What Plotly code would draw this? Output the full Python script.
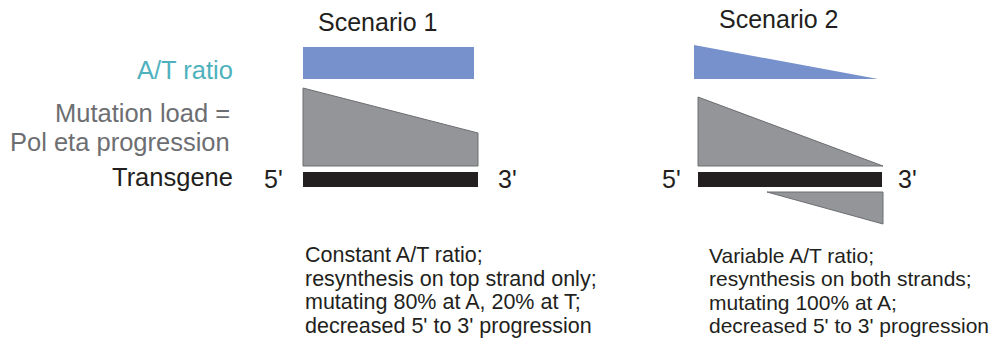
import plotly.graph_objects as go

W, H = 996, 344
FONT = "Liberation Sans, Arial, Helvetica, sans-serif"

# ---- colours ----
BLUE = "#7691CB"
GRAY_FILL = "#939598"
GRAY_LINE = "#6D6E71"
BLACK = "#231F20"
TEAL = "#4FB1BE"
GRAY_TEXT = "#6D6E71"

# ---- schematic shapes (page pixel units) ----
# A/T ratio profile
at_ratio_s1_x = [303, 474, 474, 303]
at_ratio_s1_y = [47, 47, 79, 79]
at_ratio_s2_x = [694, 878, 694]
at_ratio_s2_y = [45, 79, 79]

# Mutation load = Pol eta progression (top strand)
load_s1_x = [303, 478, 478, 303]
load_s1_y = [88, 133, 166, 166]
load_s2_x = [698, 883, 698]
load_s2_y = [97, 166, 166]

# Mutation load on bottom strand (scenario 2 only)
load_bottom_s2_x = [767, 883, 883]
load_bottom_s2_y = [192, 192, 224]

# Transgene bars
gene_s1_x = [303, 478, 478, 303]
gene_s1_y = [172, 172, 187, 187]
gene_s2_x = [698, 882, 882, 698]
gene_s2_y = [172, 172, 187, 187]

# ---- texts ----
scenario_titles = ["Scenario 1", "Scenario 2"]
scenario_title_x = [378, 779]
scenario_title_y = [22, 19]

row_labels = ["A/T ratio", "Mutation load =", "Pol eta progression", "Transgene"]
row_label_x = [234, 231, 231, 234]
row_label_y = [70, 113, 142, 177]
row_label_colors = [TEAL, GRAY_TEXT, GRAY_TEXT, BLACK]

end_labels = ["5'", "3'", "5'", "3'"]
end_label_x = [263, 497, 661, 897]
end_label_y = [179, 179, 179, 179]

desc_s1 = ["Constant A/T ratio;",
           "resynthesis on top strand only;",
           "mutating 80% at A, 20% at T;",
           "decreased 5' to 3' progression"]
desc_s2 = ["Variable A/T ratio;",
           "resynthesis on both strands;",
           "mutating 100% at A;",
           "decreased 5' to 3' progression"]
desc_x = [304, 708]
desc_size = [21.5, 21]
desc_line_y = [255, 278.5, 302, 325.5]

fig = go.Figure()


def poly(x, y, fill, line_color=None, line_width=0):
    fig.add_trace(go.Scatter(
        x=x + [x[0]], y=y + [y[0]], mode="lines", fill="toself",
        fillcolor=fill,
        line=dict(color=line_color or fill, width=line_width),
        hoverinfo="skip", showlegend=False))


poly(at_ratio_s1_x, at_ratio_s1_y, BLUE)
poly(at_ratio_s2_x, at_ratio_s2_y, BLUE)
poly(load_s1_x, load_s1_y, GRAY_FILL, GRAY_LINE, 1)
poly(load_s2_x, load_s2_y, GRAY_FILL, GRAY_LINE, 1)
poly(load_bottom_s2_x, load_bottom_s2_y, GRAY_FILL, GRAY_LINE, 1)
poly(gene_s1_x, gene_s1_y, BLACK)
poly(gene_s2_x, gene_s2_y, BLACK)

ann = []
for t, x, y in zip(scenario_titles, scenario_title_x, scenario_title_y):
    ann.append(dict(text=t, x=x, y=y, xanchor="center", yanchor="middle",
                    font=dict(size=25, color=BLACK, family=FONT)))
for t, x, y, c in zip(row_labels, row_label_x, row_label_y, row_label_colors):
    ann.append(dict(text=t, x=x, y=y, xanchor="right", yanchor="middle",
                    font=dict(size=25.5, color=c, family=FONT)))
for t, x, y in zip(end_labels, end_label_x, end_label_y):
    ann.append(dict(text=t, x=x, y=y, xanchor="left", yanchor="middle",
                    font=dict(size=25, color=BLACK, family=FONT)))
for lines, x, s in zip([desc_s1, desc_s2], desc_x, desc_size):
    for t, y in zip(lines, desc_line_y):
        ann.append(dict(text=t, x=x, y=y, xanchor="left", yanchor="middle",
                        font=dict(size=s, color=BLACK, family=FONT)))

for a in ann:
    a.update(xref="x", yref="y", showarrow=False, borderpad=0)

fig.update_layout(
    width=W, height=H,
    margin=dict(l=0, r=0, t=0, b=0),
    paper_bgcolor="white", plot_bgcolor="white",
    xaxis=dict(range=[0, W], visible=False, fixedrange=True),
    yaxis=dict(range=[H, 0], visible=False, fixedrange=True),
    annotations=ann,
    showlegend=False,
)

fig.write_html(
    "out.html",
    config={"displayModeBar": False, "staticPlot": True},
    post_script="document.body.style.margin='0';document.body.style.overflow='hidden';",
)
